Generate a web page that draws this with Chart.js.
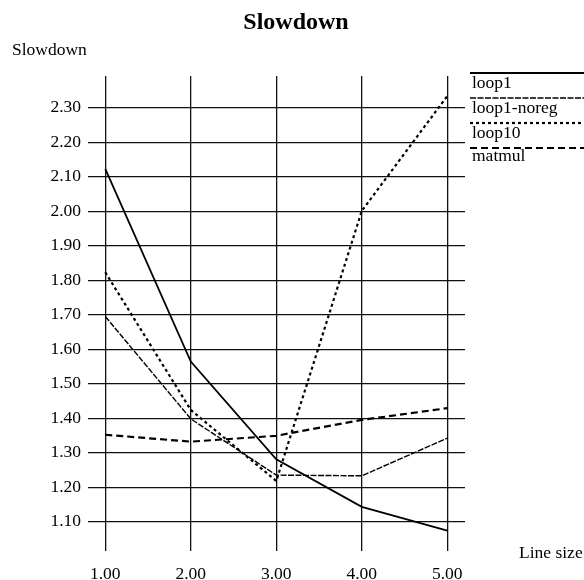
<!DOCTYPE html>
<html>
<head>
<meta charset="utf-8">
<script src="https://cdn.jsdelivr.net/npm/chart.js@4/dist/chart.umd.min.js"></script>
<style>
  html, body { margin: 0; padding: 0; background: #fff; }
  #wrap { width: 584px; height: 580px; position: relative; }
</style>
</head>
<body>
<div id="wrap"><canvas id="c" width="584" height="580"></canvas></div>
<script>
const chartTitle = "Slowdown";
const yAxisTitle = "Slowdown";
const xAxisTitle = "Line size";
const xValues = [1, 2, 3, 4, 5];
const xTicks = [1, 2, 3, 4, 5];
const yTicks = [1.1, 1.2, 1.3, 1.4, 1.5, 1.6, 1.7, 1.8, 1.9, 2.0, 2.1, 2.2, 2.3];
const seriesNames = ["loop1", "loop1-noreg", "loop10", "matmul"];
const loop1 = [2.123, 1.564, 1.281, 1.143, 1.074];
const loop1Noreg = [1.695, 1.398, 1.235, 1.233, 1.342];
const loop10 = [1.823, 1.424, 1.218, 2.001, 2.334];
const matmul = [1.352, 1.332, 1.349, 1.395, 1.429];

const FONT = "'Liberation Serif', 'Times New Roman', serif";
const INK = '#000';

function pts(vals) { return xValues.map((x, i) => ({ x: x, y: vals[i] })); }

const styles = [
  { borderWidth: 1.8, borderDash: [] },
  { borderWidth: 1.4, borderDash: [6, 1.5] },
  { borderWidth: 2.2, borderDash: [3, 3] },
  { borderWidth: 2.2, borderDash: [7, 4] }
];
const seriesValues = [loop1, loop1Noreg, loop10, matmul];

const datasets = seriesNames.map((name, i) => ({
  label: name,
  data: pts(seriesValues[i]),
  borderColor: INK,
  backgroundColor: INK,
  borderWidth: styles[i].borderWidth,
  borderDash: styles[i].borderDash,
  pointRadius: 0,
  tension: 0,
  fill: false
}));

const decor = {
  id: 'decor',
  afterDraw(chart) {
    const ctx = chart.ctx;
    ctx.save();
    ctx.fillStyle = INK;
    ctx.textBaseline = 'alphabetic';
    ctx.font = 'bold 24px ' + FONT;
    ctx.textAlign = 'center';
    ctx.fillText(chartTitle, 296, 29);
    ctx.font = '17.5px ' + FONT;
    ctx.textAlign = 'left';
    ctx.fillText(yAxisTitle, 12, 55);
    ctx.fillText(xAxisTitle, 519, 558);
    const lineY = [73, 98, 123, 148];
    const textY = [88, 113, 137.5, 161];
    chart.data.datasets.forEach((ds, i) => {
      ctx.save();
      ctx.strokeStyle = ds.borderColor;
      ctx.lineWidth = ds.borderWidth;
      ctx.setLineDash(ds.borderDash || []);
      ctx.beginPath();
      ctx.moveTo(470, lineY[i]);
      ctx.lineTo(584, lineY[i]);
      ctx.stroke();
      ctx.restore();
      ctx.font = '17.5px ' + FONT;
      ctx.textAlign = 'left';
      ctx.fillText(ds.label, 472, textY[i]);
    });
    ctx.restore();
  }
};

new Chart(document.getElementById('c'), {
  type: 'line',
  data: { datasets: datasets },
  options: {
    responsive: false,
    animation: false,
    devicePixelRatio: 1,
    layout: { padding: { top: 76, right: 119, bottom: 0, left: 0 } },
    plugins: { legend: { display: false }, title: { display: false }, tooltip: { enabled: false } },
    scales: {
      x: {
        type: 'linear',
        min: 0.798,
        max: 5.207,
        afterBuildTicks: (s) => { s.ticks = xTicks.map(v => ({ value: v })); },
        afterFit: (s) => { s.height = 29; },
        border: { display: false },
        grid: { color: '#111', lineWidth: 1.3, drawTicks: false },
        ticks: {
          color: INK,
          padding: 13,
          maxRotation: 0,
          font: { family: FONT, size: 17.5 },
          callback: (v) => Number(v).toFixed(2)
        }
      },
      y: {
        type: 'linear',
        min: 1.015,
        max: 2.392,
        afterBuildTicks: (s) => { s.ticks = yTicks.map(v => ({ value: v })); },
        afterFit: (s) => { s.width = 88; },
        border: { display: false },
        grid: { color: '#111', lineWidth: 1.3, drawTicks: false },
        ticks: {
          color: INK,
          padding: 7,
          font: { family: FONT, size: 17.5 },
          callback: (v) => Number(v).toFixed(2)
        }
      }
    }
  },
  plugins: [decor]
});
</script>
</body>
</html>
